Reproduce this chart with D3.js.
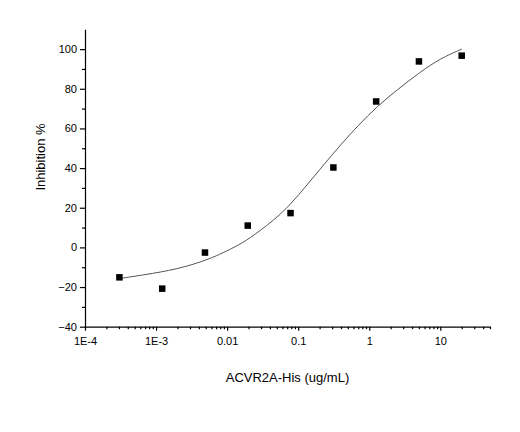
<!DOCTYPE html>
<html>
<head>
<meta charset="utf-8">
<script src="https://cdn.jsdelivr.net/npm/d3@7"></script>
<style>
body{margin:0;background:#fff;}
</style>
</head>
<body>
<div id="chart"></div>
<script>
var WIDTH=520, HEIGHT=432;

// measured points: 4-fold dilution series
var conc=[0.000305,0.00122,0.00488,0.0195,0.078,0.3125,1.25,5,20];
var inhibition=[-15.1,-20.8,-2.6,11,17.3,40.3,73.6,93.8,96.7];

// fitted curve
var fitConc=[0.000305,0.000662,0.00196,0.00577,0.0137,0.020,0.0449,0.0771,0.133,0.227,0.391,0.706,1.28,2.45,5.22,10,20];
var fitInhib=[-15.7,-13.9,-11.1,-6.0,0.7,4.1,13.5,21.4,31.5,41.5,51.6,61.7,71.0,79.4,88.5,95.3,100.0];

var xMajor=[1e-4,1e-3,0.01,0.1,1,10];
var xLabels=["1E-4","1E-3","0.01","0.1","1","10"];
var yMajor=[-40,-20,0,20,40,60,80,100];
var yMinor=[-30,-10,10,30,50,70,90];

var FONT="'Liberation Sans', Arial, sans-serif";

var svg=d3.select("#chart").append("svg")
  .attr("width",WIDTH)
  .attr("height",HEIGHT)
  .style("background","#fff");

var scaleX=d3.scaleLog().domain([1e-4,50]).range([85,490]);
var scaleY=d3.scaleLinear().domain([-40,110]).range([326.7,29.3]);

// minor ticks for the log axis (2..9 of each decade)
var xMinor=[];
[1e-4,1e-3,0.01,0.1,1,10].forEach(function(d){
  for(var k=2;k<=9;k++){ if(d*k<=50) xMinor.push(d*k); }
});

// x axis
svg.append("g")
  .attr("transform","translate(0,"+scaleY(-40)+")")
  .style("font-family",FONT)
  .style("font-size","11px")
  .call(d3.axisBottom(scaleX)
    .tickValues(xMajor)
    .tickFormat(function(d,i){return xLabels[i];})
    .tickSize(4)
    .tickSizeOuter(0)
    .tickPadding(7));

svg.append("g")
  .attr("transform","translate(0,"+scaleY(-40)+")")
  .call(d3.axisBottom(scaleX)
    .tickValues(xMinor)
    .tickFormat("")
    .tickSize(2.5)
    .tickSizeOuter(0))
  .select(".domain").remove();

// y axis
svg.append("g")
  .attr("transform","translate("+scaleX(1e-4)+",0)")
  .style("font-family",FONT)
  .style("font-size","11px")
  .call(d3.axisLeft(scaleY)
    .tickValues(yMajor)
    .tickSize(5)
    .tickSizeOuter(0)
    .tickPadding(3));

svg.append("g")
  .attr("transform","translate("+scaleX(1e-4)+",0)")
  .call(d3.axisLeft(scaleY)
    .tickValues(yMinor)
    .tickFormat("")
    .tickSize(3)
    .tickSizeOuter(0))
  .select(".domain").remove();

svg.selectAll(".tick text").attr("fill","#000");
svg.selectAll(".domain, .tick line").attr("stroke","#000").attr("stroke-width",1.2);

// axis titles
svg.append("text")
  .attr("x",scaleX(Math.sqrt(1e-4*50)))
  .attr("y",382)
  .style("text-anchor","middle")
  .style("font-family",FONT)
  .style("font-size","13px")
  .text("ACVR2A-His (ug/mL)");

svg.append("text")
  .attr("transform","translate(45,157) rotate(-90)")
  .style("text-anchor","middle")
  .style("font-family",FONT)
  .style("font-size","13px")
  .text("Inhibition %");

// fit curve
var fitData=fitConc.map(function(c,i){return {x:c,y:fitInhib[i]};});
var line=d3.line()
  .x(function(d){return scaleX(d.x);})
  .y(function(d){return scaleY(d.y);})
  .curve(d3.curveBasis);

svg.append("path")
  .datum(fitData)
  .attr("d",line)
  .attr("fill","none")
  .attr("stroke","#555")
  .attr("stroke-width",1);

// points
var pts=conc.map(function(c,i){return {x:c,y:inhibition[i]};});
var S=6.5;
svg.selectAll("rect.pt")
  .data(pts)
  .enter()
  .append("rect")
  .attr("class","pt")
  .attr("x",function(d){return scaleX(d.x)-S/2;})
  .attr("y",function(d){return scaleY(d.y)-S/2;})
  .attr("width",S)
  .attr("height",S)
  .attr("fill","#000");
</script>
</body>
</html>
